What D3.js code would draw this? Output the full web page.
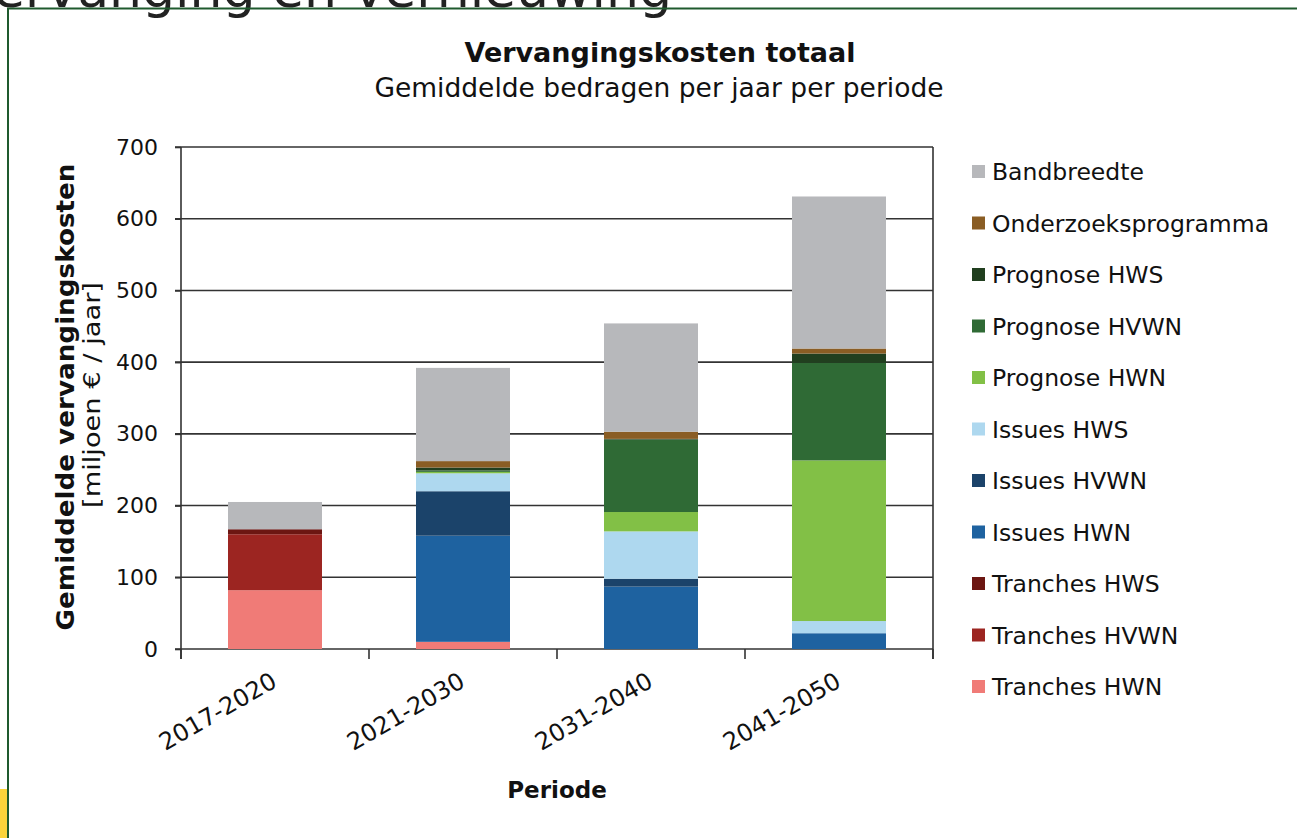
<!DOCTYPE html>
<html>
<head>
<meta charset="utf-8">
<script src="https://cdn.jsdelivr.net/npm/d3@7"></script>
<style>
  body { margin: 0; background: #fff; }
  text { font-family: "DejaVu Sans", Verdana, sans-serif; fill: #111; }
</style>
</head>
<body>
<div id="chart"></div>
<script>
// periods on the x axis
const periods = ["2017-2020", "2021-2030", "2031-2040", "2041-2050"];

// series, bottom of the stack first
const seriesNames = [
  "Tranches HWN", "Tranches HVWN", "Tranches HWS",
  "Issues HWN", "Issues HVWN", "Issues HWS",
  "Prognose HWN", "Prognose HVWN", "Prognose HWS",
  "Onderzoeksprogramma", "Bandbreedte"
];
const seriesColors = [
  "#f07b77", "#9c2521", "#6c1612",
  "#1e62a0", "#1b436a", "#aed8ef",
  "#82c046", "#2f6a35", "#213f1f",
  "#8a5d24", "#b7b8bb"
];

// miljoen euro per jaar, one value per period
const tranchesHWN   = [82, 10, 0, 0];
const tranchesHVWN  = [78, 0, 0, 0];
const tranchesHWS   = [7, 0, 0, 0];
const issuesHWN     = [0, 148, 87, 22];
const issuesHVWN    = [0, 62, 11, 0];
const issuesHWS     = [0, 25, 66, 17];
const prognoseHWN   = [0, 2, 27, 224];
const prognoseHVWN  = [0, 2, 101, 136];
const prognoseHWS   = [0, 4, 1, 13];
const onderzoek     = [0, 9, 10, 7];
const bandbreedte   = [38, 130, 151, 212];

const yTicks = [0, 100, 200, 300, 400, 500, 600, 700];

const seriesValues = [tranchesHWN, tranchesHVWN, tranchesHWS, issuesHWN, issuesHVWN,
  issuesHWS, prognoseHWN, prognoseHVWN, prognoseHWS, onderzoek, bandbreedte];

const table = periods.map((p, i) => {
  const row = { period: p };
  seriesNames.forEach((s, j) => row[s] = seriesValues[j][i]);
  return row;
});

const width = 1297, height = 838;
const plot = { left: 181, right: 933, top: 147, bottom: 649 };

const svg = d3.select("#chart").append("svg")
  .attr("width", width).attr("height", height);

// page frame bits
svg.append("text")
  .attr("x", 672).attr("y", 7)
  .attr("text-anchor", "end")
  .style("font-size", "52px")
  .style("fill", "#222")
  .text("Vervanging en vernieuwing");

svg.append("rect").attr("x", 0).attr("y", 789).attr("width", 8).attr("height", 49).attr("fill", "#fcd43a");
svg.append("path")
  .attr("d", `M8,838 V8.5 H${width}`)
  .attr("fill", "none")
  .attr("stroke", "#1f5a2e")
  .attr("stroke-width", 2);

const x = d3.scaleBand().domain(periods).range([plot.left, plot.right]).padding(0);
const y = d3.scaleLinear().domain([0, 700]).range([plot.bottom, plot.top]);
const color = d3.scaleOrdinal().domain(seriesNames).range(seriesColors);

// grid lines
svg.append("g")
  .selectAll("line")
  .data(yTicks)
  .enter().append("line")
  .attr("x1", plot.left - 6).attr("x2", plot.right)
  .attr("y1", d => y(d)).attr("y2", d => y(d))
  .attr("stroke", "#333").attr("stroke-width", 1.6);

// stacked bars
const stacked = d3.stack().keys(seriesNames)(table);
const barW = x.bandwidth() * 0.5;

svg.append("g")
  .selectAll("g")
  .data(stacked)
  .enter().append("g")
  .attr("fill", d => color(d.key))
  .selectAll("rect")
  .data(d => d)
  .enter().append("rect")
  .attr("x", d => x(d.data.period) + (x.bandwidth() - barW) / 2)
  .attr("y", d => y(d[1]))
  .attr("width", barW)
  .attr("height", d => y(d[0]) - y(d[1]));

// y axis
const yAxis = svg.append("g")
  .attr("transform", `translate(${plot.left},0)`)
  .call(d3.axisLeft(y).tickValues(yTicks).tickSize(6).tickPadding(17));
yAxis.select(".domain").remove();
yAxis.selectAll("line").attr("stroke", "#333").attr("stroke-width", 1.6);
yAxis.selectAll("text")
  .style("font-size", "22px")
  .style("font-family", "DejaVu Sans, sans-serif")
  .attr("fill", "#111");

// frame of the plot area
svg.append("line")
  .attr("x1", plot.left).attr("x2", plot.left)
  .attr("y1", plot.top).attr("y2", plot.bottom + 10)
  .attr("stroke", "#333").attr("stroke-width", 1.6);
svg.append("line")
  .attr("x1", plot.right).attr("x2", plot.right)
  .attr("y1", plot.top).attr("y2", plot.bottom + 10)
  .attr("stroke", "#333").attr("stroke-width", 1.6);

// x axis ticks at band edges
const edges = periods.map(p => x(p)).concat([plot.right]);
svg.append("g")
  .selectAll("line")
  .data(edges)
  .enter().append("line")
  .attr("x1", d => d).attr("x2", d => d)
  .attr("y1", plot.bottom).attr("y2", plot.bottom + 10)
  .attr("stroke", "#333").attr("stroke-width", 1.6);

svg.append("g")
  .selectAll("text")
  .data(periods)
  .enter().append("text")
  .attr("transform", d => `translate(${x(d) + x.bandwidth() / 2 - 5},${plot.bottom + 22}) rotate(-30)`)
  .attr("text-anchor", "end")
  .attr("dy", "0.71em")
  .style("font-size", "24px")
  .text(d => d);

// axis titles
svg.append("text")
  .attr("x", (plot.left + plot.right) / 2)
  .attr("y", 798)
  .attr("text-anchor", "middle")
  .style("font-size", "23px")
  .style("font-weight", "bold")
  .text("Periode");

svg.append("text")
  .attr("transform", `translate(74,397) rotate(-90)`)
  .attr("text-anchor", "middle")
  .attr("textLength", 467)
  .attr("lengthAdjust", "spacingAndGlyphs")
  .style("font-size", "25px")
  .style("font-weight", "bold")
  .text("Gemiddelde vervangingskosten");

svg.append("text")
  .attr("transform", `translate(100,395) rotate(-90)`)
  .attr("text-anchor", "middle")
  .attr("textLength", 226)
  .attr("lengthAdjust", "spacingAndGlyphs")
  .style("font-size", "23px")
  .text("[miljoen € / jaar]");

// chart title
svg.append("text")
  .attr("x", 660).attr("y", 62)
  .attr("text-anchor", "middle")
  .style("font-size", "27px")
  .style("font-weight", "bold")
  .text("Vervangingskosten totaal");

svg.append("text")
  .attr("x", 659).attr("y", 97)
  .attr("text-anchor", "middle")
  .style("font-size", "26.5px")
  .text("Gemiddelde bedragen per jaar per periode");

// legend, top of the stack first
const legendItems = seriesNames.slice().reverse();
const legend = svg.append("g")
  .selectAll("g")
  .data(legendItems)
  .enter().append("g")
  .attr("transform", (d, i) => `translate(972,${172 + i * 51.5})`);

legend.append("rect")
  .attr("x", 0).attr("y", -7)
  .attr("width", 13).attr("height", 13)
  .attr("fill", d => color(d));

legend.append("text")
  .attr("x", 20).attr("y", 0)
  .attr("dy", "0.35em")
  .style("font-size", "23.5px")
  .text(d => d);
</script>
</body>
</html>
